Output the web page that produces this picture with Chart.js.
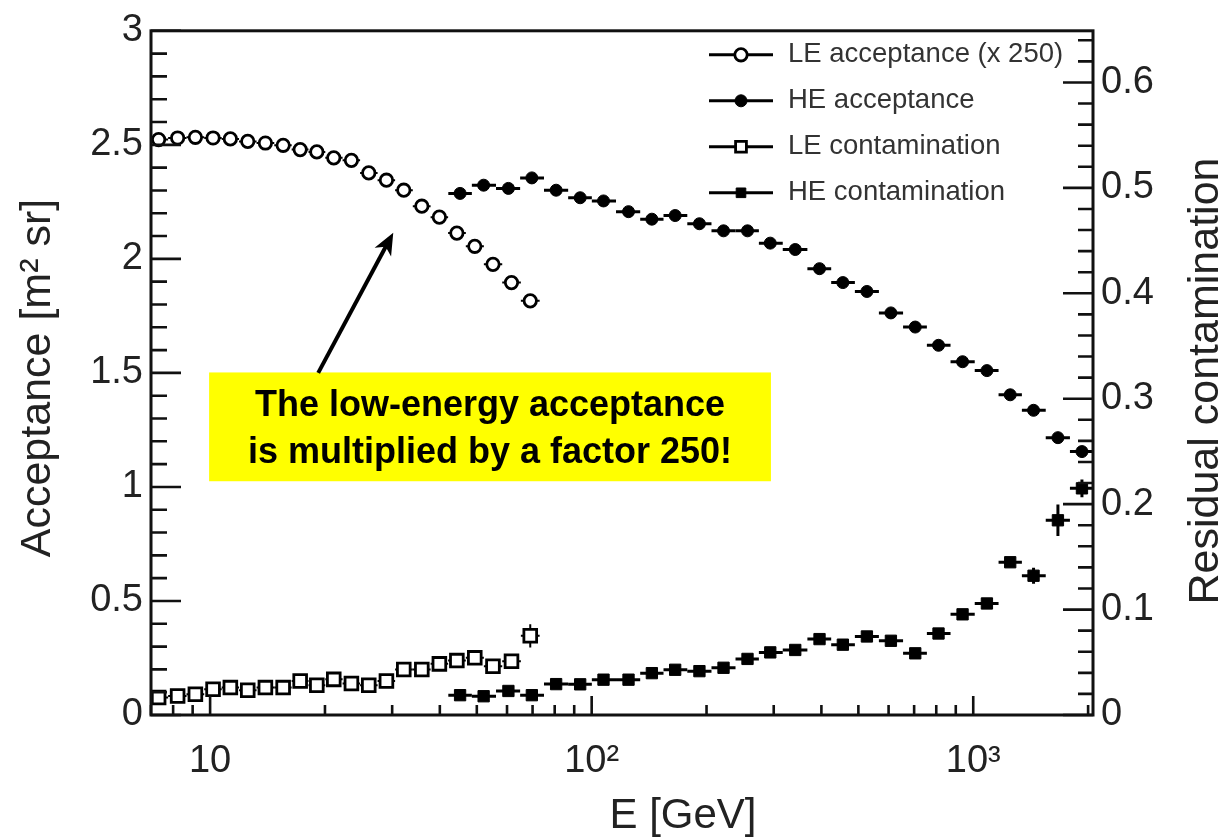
<!DOCTYPE html>
<html>
<head>
<meta charset="utf-8">
<script src="https://cdn.jsdelivr.net/npm/chart.js@4.4.1/dist/chart.umd.min.js"></script>
<style>
  html, body { margin: 0; padding: 0; background: #fff; }
</style>
</head>
<body>
<canvas id="myChart" width="1223" height="838"></canvas>
<script>
// ============== Data ==============
const le_energy = [7.33, 8.22, 9.15, 10.18, 11.3, 12.55, 13.96, 15.54, 17.22, 19.04, 21.09,
  23.46, 26.05, 28.98, 32.18, 35.88, 39.89, 44.33, 49.39, 55.12, 61.64, 69.03];
const le_acceptance = [2.523, 2.53, 2.533, 2.53, 2.526, 2.515, 2.508, 2.498, 2.479, 2.469, 2.443,
  2.432, 2.377, 2.345, 2.301, 2.231, 2.183, 2.113, 2.055, 1.976, 1.896, 1.816];
const le_contamination = [0.0166, 0.0181, 0.0197, 0.0244, 0.026, 0.0235, 0.026, 0.026, 0.0322, 0.0282, 0.0338,
  0.0298, 0.0282, 0.0322, 0.0432, 0.0432, 0.0485, 0.0516, 0.0542, 0.0463, 0.051, 0.0751];
const le_contamination_err = [0, 0, 0, 0, 0, 0, 0, 0, 0, 0, 0, 0, 0, 0, 0, 0, 0, 0, 0, 0, 0, 0.011];

const he_energy = [45.2, 52.1, 60.5, 69.7, 80.7, 93.3, 107.4, 124.9, 143.8, 165.5, 191.6, 221.6, 256.1, 293.8,
  341.6, 395.5, 455.3, 526.4, 608.4, 704.7, 811, 937.6, 1086, 1250, 1439, 1667, 1927];
const he_acceptance = [2.287, 2.323, 2.309, 2.355, 2.301, 2.268, 2.254, 2.207, 2.174, 2.19, 2.154, 2.123, 2.123, 2.069,
  2.041, 1.957, 1.896, 1.857, 1.763, 1.701, 1.621, 1.549, 1.51, 1.404, 1.336, 1.216, 1.155];
const he_acceptance_err = [0, 0, 0, 0, 0, 0, 0, 0, 0, 0, 0, 0, 0, 0, 0, 0, 0, 0, 0, 0, 0, 0, 0, 0, 0, 0.02, 0.02];
const he_contamination = [0.0188, 0.0178, 0.0228, 0.0188, 0.0293, 0.0291, 0.0335, 0.0335, 0.0397, 0.0429, 0.0416, 0.0448, 0.0532, 0.0594,
  0.0617, 0.072, 0.0667, 0.0745, 0.0704, 0.0585, 0.0773, 0.0955, 0.1058, 0.1449, 0.1321, 0.1847, 0.215];
const he_contamination_err = [0, 0, 0, 0, 0, 0, 0, 0, 0, 0, 0, 0, 0, 0, 0, 0, 0, 0, 0, 0, 0, 0, 0, 0, 0.0075, 0.015, 0.0085];

const series_labels = ["LE acceptance (x 250)", "HE acceptance", "LE contamination", "HE contamination"];

const x_ticks = [10, 100, 1000];
const x_tick_labels = ["10", "10\u00b2", "10\u00b3"];
const left_ticks = [0, 0.5, 1, 1.5, 2, 2.5, 3];
const right_ticks = [0, 0.1, 0.2, 0.3, 0.4, 0.5, 0.6];

const note_lines = ["The low-energy acceptance", "is multiplied by a factor 250!"];

// ============== Helpers ==============
const FONT = '"Liberation Sans", Arial, Helvetica, sans-serif';
const INK = "#222";

function toPoints(xs, ys, errs) {
  return xs.map((x, i) => ({ x: x, y: ys[i], err: errs ? errs[i] : 0 }));
}

function scatterSet(label, data, axis, style, radius, filled) {
  return {
    label: label,
    data: data,
    yAxisID: axis,
    pointStyle: style,
    pointRadius: radius,
    pointHoverRadius: radius,
    pointBorderWidth: filled ? 1 : 2.8,
    pointBorderColor: "#000",
    pointBackgroundColor: filled ? "#000" : "#fff",
    showLine: false,
    clip: false,
    barWidth: filled ? 3 : 2,
  };
}

// error bars : horizontal = bin width (half way to neighbours in log), vertical = err
const errorBars = {
  id: "errorBars",
  beforeDatasetsDraw(chart) {
    const ctx = chart.ctx;
    const xs = chart.scales.x;
    const a = chart.chartArea;
    chart.data.datasets.forEach((ds) => {
      const ys = chart.scales[ds.yAxisID];
      const n = ds.data.length;
      ctx.save();
      ctx.beginPath();
      ctx.rect(a.left, a.top, a.right - a.left, a.bottom - a.top);
      ctx.clip();
      ctx.strokeStyle = "#000";
      ctx.lineWidth = ds.barWidth;
      ds.data.forEach((p, i) => {
        const lo = i > 0 ? Math.sqrt(p.x / ds.data[i - 1].x) : Math.sqrt(ds.data[i + 1].x / p.x);
        const hi = i < n - 1 ? Math.sqrt(ds.data[i + 1].x / p.x) : lo;
        const y = ys.getPixelForValue(p.y);
        const x = xs.getPixelForValue(p.x);
        ctx.beginPath();
        ctx.moveTo(xs.getPixelForValue(p.x / lo), y);
        ctx.lineTo(xs.getPixelForValue(p.x * hi), y);
        if (p.err) {
          ctx.moveTo(x, ys.getPixelForValue(p.y - p.err));
          ctx.lineTo(x, ys.getPixelForValue(p.y + p.err));
        }
        ctx.stroke();
      });
      ctx.restore();
    });
  },
};

// frame + inward ticks (ROOT style)
const frameTicks = {
  id: "frameTicks",
  afterDatasetsDraw(chart) {
    const ctx = chart.ctx;
    const a = chart.chartArea;
    const xs = chart.scales.x, yl = chart.scales.yL, yr = chart.scales.yR;
    ctx.save();
    ctx.strokeStyle = "#111";
    ctx.lineWidth = 2.6;
    ctx.beginPath();
    for (let k = 0; k <= 30; k++) {
      const y = yl.getPixelForValue(k * 0.1);
      ctx.moveTo(a.left, y);
      ctx.lineTo(a.left + (k % 5 === 0 ? 30 : 16), y);
    }
    for (let k = 0; k <= 32; k++) {
      const y = yr.getPixelForValue(k * 0.02);
      ctx.moveTo(a.right, y);
      ctx.lineTo(a.right - (k % 5 === 0 ? 30 : 15), y);
    }
    [1, 10, 100, 1000].forEach((dec) => {
      for (let m = 1; m <= 9; m++) {
        const v = m * dec;
        if (v < xs.min || v > xs.max) continue;
        const x = xs.getPixelForValue(v);
        ctx.moveTo(x, a.bottom);
        ctx.lineTo(x, a.bottom - (m === 1 ? 19 : 10));
      }
    });
    ctx.stroke();
    ctx.lineWidth = 3;
    ctx.strokeRect(a.left, a.top, a.right - a.left, a.bottom - a.top);
    ctx.restore();
  },
};

// legend inside the frame, top right
const frameLegend = {
  id: "frameLegend",
  afterDraw(chart) {
    const ctx = chart.ctx;
    const a = chart.chartArea;
    ctx.save();
    chart.data.datasets.forEach((ds, i) => {
      const y = a.top + 24 + 46 * i;
      const x0 = a.right - 384;
      ctx.strokeStyle = "#000";
      ctx.lineWidth = 3;
      ctx.beginPath();
      ctx.moveTo(x0, y);
      ctx.lineTo(x0 + 64, y);
      ctx.stroke();
      ctx.fillStyle = ds.pointBackgroundColor;
      ctx.strokeStyle = "#000";
      ctx.lineWidth = ds.pointBorderWidth;
      Chart.helpers.drawPoint(ctx, {
        pointStyle: ds.pointStyle,
        radius: ds.pointStyle === "rect" ? ds.pointRadius * 0.85 : ds.pointRadius,
        borderWidth: ds.pointBorderWidth,
        rotation: 0,
      }, x0 + 32, y);
      ctx.fillStyle = "#333";
      ctx.font = "27.5px " + FONT;
      ctx.textBaseline = "middle";
      ctx.textAlign = "left";
      ctx.fillText(ds.label, x0 + 79, y);
    });
    ctx.restore();
  },
};

// axis titles and the yellow note (anchored in data coordinates)
const note = { x0: 9.94, x1: 295, yTop: 1.502, yBottom: 1.025, tail: [19.2, 1.5], tip: [30.2, 2.115] };

const titlesAndNote = {
  id: "titlesAndNote",
  afterDraw(chart) {
    const ctx = chart.ctx;
    const xs = chart.scales.x, yl = chart.scales.yL;
    ctx.save();
    ctx.fillStyle = INK;
    ctx.font = "42px " + FONT;
    ctx.textAlign = "center";
    ctx.textBaseline = "alphabetic";
    ctx.fillText("E [GeV]", 683, 828);

    ctx.save();
    ctx.translate(50, 378);
    ctx.rotate(-Math.PI / 2);
    ctx.font = "43px " + FONT;
    ctx.fillText("Acceptance [m\u00b2 sr]", 0, 0);
    ctx.restore();

    ctx.save();
    ctx.translate(1218, 381);
    ctx.rotate(-Math.PI / 2);
    ctx.font = "43px " + FONT;
    ctx.fillText("Residual contamination", 0, 0);
    ctx.restore();

    // note box
    const bx0 = xs.getPixelForValue(note.x0), bx1 = xs.getPixelForValue(note.x1);
    const by0 = yl.getPixelForValue(note.yTop), by1 = yl.getPixelForValue(note.yBottom);
    ctx.fillStyle = "#ffff00";
    ctx.fillRect(bx0, by0, bx1 - bx0, by1 - by0);
    ctx.fillStyle = "#000";
    ctx.font = "bold 36px " + FONT;
    ctx.fillText(note_lines[0], (bx0 + bx1) / 2, by0 + 44);
    ctx.fillText(note_lines[1], (bx0 + bx1) / 2, by0 + 91);

    // arrow
    const tx = xs.getPixelForValue(note.tail[0]), ty = yl.getPixelForValue(note.tail[1]);
    const hx = xs.getPixelForValue(note.tip[0]), hy = yl.getPixelForValue(note.tip[1]);
    const ang = Math.atan2(hy - ty, hx - tx);
    ctx.strokeStyle = "#000";
    ctx.lineWidth = 4;
    ctx.beginPath();
    ctx.moveTo(tx, ty);
    ctx.lineTo(hx - 14 * Math.cos(ang), hy - 14 * Math.sin(ang));
    ctx.stroke();
    ctx.beginPath();
    ctx.moveTo(hx, hy);
    ctx.lineTo(hx - 24 * Math.cos(ang - 0.4), hy - 24 * Math.sin(ang - 0.4));
    ctx.lineTo(hx - 16 * Math.cos(ang), hy - 16 * Math.sin(ang));
    ctx.lineTo(hx - 24 * Math.cos(ang + 0.4), hy - 24 * Math.sin(ang + 0.4));
    ctx.closePath();
    ctx.fill();
    ctx.restore();
  },
};

// ============== Chart ==============
Chart.defaults.font.family = FONT;
Chart.defaults.color = INK;

const datasets = [
  scatterSet(series_labels[0], toPoints(le_energy, le_acceptance), "yL", "circle", 6.2, false),
  scatterSet(series_labels[1], toPoints(he_energy, he_acceptance, he_acceptance_err), "yL", "circle", 6, true),
  scatterSet(series_labels[2], toPoints(le_energy, le_contamination, le_contamination_err), "yR", "rect", 9, false),
  scatterSet(series_labels[3], toPoints(he_energy, he_contamination, he_contamination_err), "yR", "rect", 8, true),
];

const ctx = document.getElementById("myChart").getContext("2d");
const mychart = new Chart(ctx, {
  type: "scatter",
  data: { datasets: datasets },
  options: {
    responsive: false,
    animation: false,
    devicePixelRatio: 1,
    layout: { padding: { top: 24, left: 0, right: 0, bottom: 0 } },
    plugins: { legend: { display: false }, tooltip: { enabled: false } },
    scales: {
      x: {
        type: "logarithmic",
        min: 7,
        max: 2060,
        grid: { display: false, drawTicks: false },
        border: { display: false },
        afterBuildTicks: (s) => { s.ticks = x_ticks.map((v) => ({ value: v })); },
        afterFit: (s) => { s.height = 123; },
        ticks: {
          autoSkip: false,
          maxRotation: 0,
          padding: 24,
          font: { size: 38 },
          callback: (v) => x_tick_labels[x_ticks.indexOf(v)],
        },
      },
      yL: {
        position: "left",
        min: 0,
        max: 3,
        grid: { display: false, drawTicks: false },
        border: { display: false },
        afterBuildTicks: (s) => { s.ticks = left_ticks.map((v) => ({ value: v })); },
        afterFit: (s) => { s.width = 151; },
        ticks: { padding: 8, font: { size: 38 }, callback: (v) => String(v) },
      },
      yR: {
        position: "right",
        min: 0,
        max: 0.649,
        grid: { display: false, drawTicks: false },
        border: { display: false },
        afterBuildTicks: (s) => { s.ticks = right_ticks.map((v) => ({ value: v })); },
        afterFit: (s) => { s.width = 130; },
        ticks: { padding: 8, font: { size: 38 }, callback: (v) => String(v) },
      },
    },
  },
  plugins: [errorBars, frameTicks, frameLegend, titlesAndNote],
});
</script>
</body>
</html>
